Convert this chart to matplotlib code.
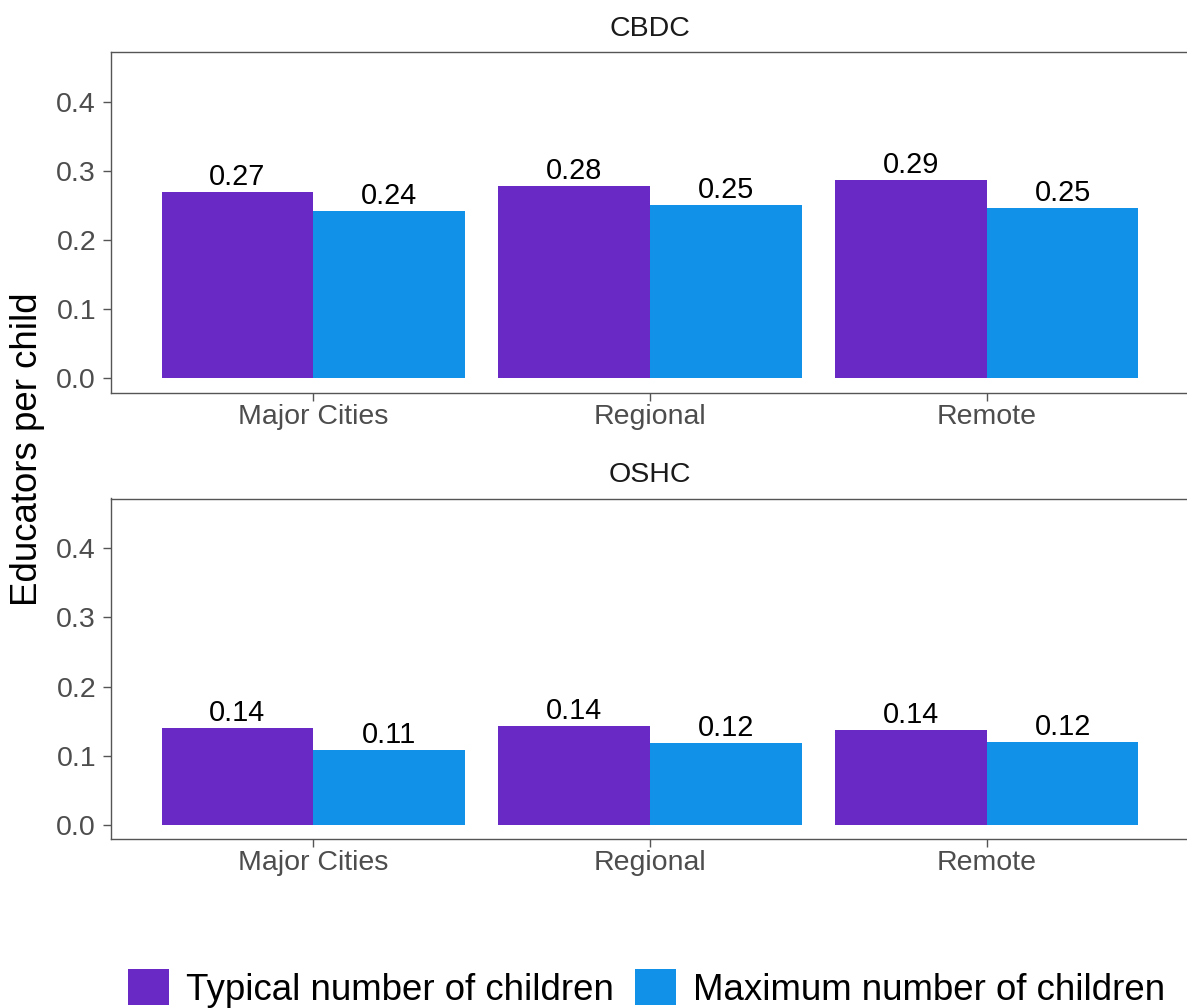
import matplotlib
matplotlib.use("Agg")
import matplotlib.pyplot as plt
from matplotlib.patches import Patch
import numpy as np

plt.rcParams['font.family'] = ['Liberation Sans', 'DejaVu Sans']

categories = ["Major Cities", "Regional", "Remote"]
panels = ["CBDC", "OSHC"]
series_names = ["Typical number of children", "Maximum number of children"]
cbdc_typical = [0.270, 0.278, 0.2875]
cbdc_maximum = [0.242, 0.251, 0.2465]
oshc_typical = [0.1406, 0.1426, 0.1377]
oshc_maximum = [0.108, 0.1185, 0.1204]
yticks = [0.0, 0.1, 0.2, 0.3, 0.4]
colors = ["#6929c4", "#1192e8"]

W, H = 1187, 1008
fig = plt.figure(figsize=(W / 100, H / 100), dpi=100)

def fx(px):
    return px / W

def fy(py):
    return 1 - py / H

left_px, right_px = 111, 1189
panel_specs = [
    (panels[0], cbdc_typical, cbdc_maximum, 52.3, 392.7),
    (panels[1], oshc_typical, oshc_maximum, 498.5, 839.3),
]

spine_col = "#555555"
tick_col = "#4d4d4d"
x = np.arange(len(categories))
bw = 0.45

for title, typ, mx, top_px, bot_px in panel_specs:
    ax = fig.add_axes([fx(left_px), fy(bot_px), fx(right_px) - fx(left_px), fy(top_px) - fy(bot_px)])
    for i, (vals, col) in enumerate(zip([typ, mx], colors)):
        xs = x + (i - 0.5) * bw
        ax.bar(xs, vals, width=bw, color=col, linewidth=0)
        for xi, v in zip(xs, vals):
            ax.annotate(f"{v:.2f}", (xi, v), xytext=(0, 5), textcoords="offset points",
                        ha="center", va="baseline", fontsize=20.8, color="black")
    ax.set_xlim(-0.6, 2.6)
    ax.set_ylim(-0.021, 0.472)
    ax.set_xticks(x)
    ax.set_xticklabels(categories)
    ax.set_yticks(yticks)
    ax.set_yticklabels([f"{t:.1f}" for t in yticks])
    ax.tick_params(axis="both", length=5.8, width=1.0, color=spine_col,
                   labelsize=20.5, labelcolor=tick_col)
    ax.tick_params(axis="x", pad=2)
    ax.tick_params(axis="y", pad=5)
    for s in ax.spines.values():
        s.set_color(spine_col)
        s.set_linewidth(1.0)
    ax.text(0.5, 1.0, title, transform=ax.transAxes, ha="center", va="baseline",
            fontsize=20.5, color="#1a1a1a",
            bbox=None)
    # shift title above axes top by ~16px
    import matplotlib.transforms as mtrans
    ax.texts[-1].set_transform(ax.transAxes + mtrans.ScaledTranslation(0, 16 / 100, fig.dpi_scale_trans))

fig.text(fx(27.5), fy(449), "Educators per child", rotation=90, ha="center", va="center",
         fontsize=26.4, color="black")

handles = [Patch(facecolor=c, edgecolor="none") for c in colors]
fig.legend(handles, series_names, loc="center left",
           bbox_to_anchor=(fx(127.7), fy(988.5)), ncol=2, frameon=False,
           fontsize=26.4, handlelength=1.12, handleheight=1.12,
           handletextpad=0.47, columnspacing=0.57, borderpad=0, borderaxespad=0)

fig.savefig("out.png", dpi=100)
